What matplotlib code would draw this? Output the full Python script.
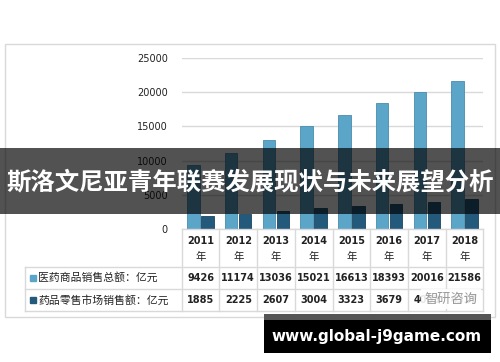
import numpy as np
import matplotlib.pyplot as plt
from matplotlib.patches import Rectangle

plt.rcParams['font.family'] = ['Noto Sans CJK SC', 'DejaVu Sans']

# 数据
years = ['2011', '2012', '2013', '2014', '2015', '2016', '2017', '2018']
total_sales = [9426, 11174, 13036, 15021, 16613, 18393, 20016, 21586]
retail_sales = [1885, 2225, 2607, 3004, 3323, 3679, 4003, 4317]
series_names = ['医药商品销售总额：亿元', '药品零售市场销售额：亿元']
yticks = [0, 5000, 10000, 15000, 20000, 25000]
title = '斯洛文尼亚青年联赛发展现状与未来展望分析'
url = 'www.global-j9game.com'
mark = '智研咨询'

c_light = '#5ba5c9'
c_dark = '#235a7c'
line_c = '#d9d9d9'

W, H = 500, 362
fig = plt.figure(figsize=(W / 100, H / 100), dpi=100)

# 图区(像素坐标)
x0, x1 = 181.7, 483.3
y0, ytop = 229, 58
ax = fig.add_axes([x0 / W, 1 - y0 / H, (x1 - x0) / W, (y0 - ytop) / H])
x = np.arange(len(years))
bw = 0.33
ax.bar(x - bw / 2 - 0.02, total_sales, bw, color=c_light, edgecolor='#4a8cab', linewidth=0.6, zorder=3)
ax.bar(x + bw / 2 + 0.02, retail_sales, bw, color=c_dark, edgecolor='#1a4560', linewidth=0.6, zorder=3)
ax.set_xlim(-0.5, len(years) - 0.5)
ax.set_ylim(0, 25000)
ax.set_yticks(yticks)
ax.set_yticklabels([str(v) for v in yticks], fontsize=7, color='#222222', family='DejaVu Sans')
ax.tick_params(axis='y', length=0, pad=10)
ax.set_xticks([])
ax.yaxis.grid(True, color=line_c, linewidth=1)
for s in ax.spines.values():
    s.set_visible(False)

# 覆盖层，用像素坐标
ov = fig.add_axes([0, 0, 1, 1], zorder=5)
ov.set_xlim(0, W)
ov.set_ylim(H, 0)
ov.axis('off')
ov.patch.set_alpha(0)

# 外框
ov.add_patch(Rectangle((5, 44), 490, 273, fill=False, edgecolor=line_c, linewidth=1))

# 数据表
cw = (x1 - x0) / len(years)
r0, r1, r2 = 266.7, 289, 311
lx = 25
ov.plot([x0, x1], [y0, y0], color=line_c, lw=1)
for yy in (r0, r1, r2):
    ov.plot([lx, x1], [yy, yy], color=line_c, lw=1)
ov.plot([lx, lx], [r0, r2], color=line_c, lw=1)
for i in range(len(years) + 1):
    xx = x0 + i * cw
    ov.plot([xx, xx], [y0, r2], color=line_c, lw=1)

for i, yr in enumerate(years):
    cx = x0 + (i + 0.5) * cw
    ov.text(cx, 241, yr, ha='center', va='center', fontsize=7, color='#222222',
            family='DejaVu Sans', fontweight='bold')
    ov.text(cx, 257, '年', ha='center', va='center', fontsize=7.5, color='#222222')
    ov.text(cx, (r0 + r1) / 2, str(total_sales[i]), ha='center', va='center',
            fontsize=7, color='#222222', family='DejaVu Sans', fontweight='bold')
    ov.text(cx, (r1 + r2) / 2, str(retail_sales[i]), ha='center', va='center',
            fontsize=7, color='#222222', family='DejaVu Sans', fontweight='bold')

for yy, name, c in [((r0 + r1) / 2, series_names[0], c_light), ((r1 + r2) / 2, series_names[1], c_dark)]:
    ov.add_patch(Rectangle((30, yy - 3), 6, 6, color=c))
    ov.text(38, yy, name, ha='left', va='center', fontsize=7.8, color='#222222')

# 水印
ov.text(451, 299, mark, ha='center', va='center', fontsize=9.5, color='#999999',
        bbox=dict(boxstyle='square,pad=0.3', facecolor='white', edgecolor='none', alpha=0.9))

# 标题横幅
ov.add_patch(Rectangle((0, 148), W, 66, color='black', alpha=0.68, linewidth=0))
ov.text(W / 2, 182, title, ha='center', va='center', fontsize=17.6, color='white', fontweight='bold')

# 底部网址
ov.add_patch(Rectangle((264, 314), 227, 6, color='#555555', linewidth=0))
ov.add_patch(Rectangle((264, 320), 227, 33, color='black', linewidth=0))
ov.text(377, 336, url, ha='center', va='center', fontsize=11, color='white',
        family='DejaVu Sans', fontweight='bold')

fig.savefig('out.png', dpi=100)
